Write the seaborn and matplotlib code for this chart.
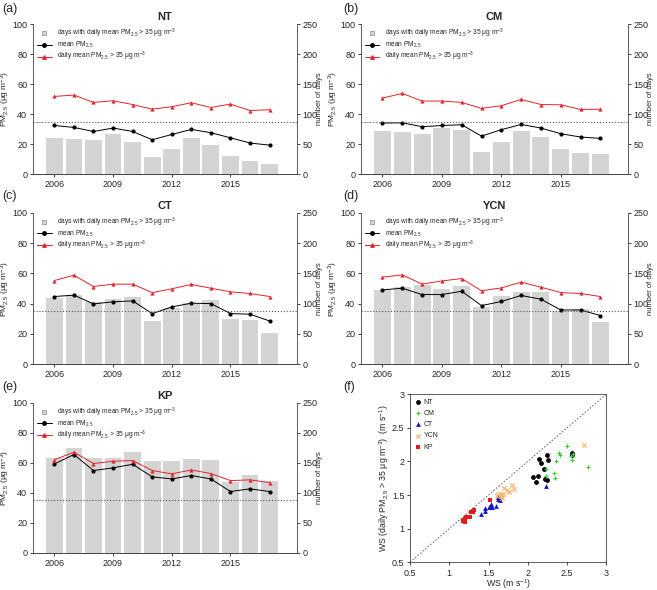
import pandas as pd
import matplotlib
matplotlib.use("Agg")
import matplotlib.pyplot as plt
from matplotlib.lines import Line2D
import seaborn as sns

# --- Datos ---
years = list(range(2006, 2018))
year_ticks = [2006, 2009, 2012, 2015]
stations = ["NT", "CM", "CT", "YCN", "KP"]
panel_tags = ["(a)", "(b)", "(c)", "(d)", "(e)"]

# días con PM2.5 diario > 35 (eje derecho)
nt_days = [60, 59, 56, 67, 53, 29, 42, 60, 49, 30, 21, 16]
cm_days = [71, 70, 66, 76, 74, 36, 54, 72, 62, 42, 35, 33]
ct_days = [110, 114, 103, 107, 111, 72, 93, 101, 106, 74, 73, 52]
ycn_days = [122, 127, 130, 125, 129, 94, 112, 120, 120, 88, 91, 70]
kp_days = [158, 175, 158, 158, 168, 153, 153, 157, 155, 118, 130, 120]

# PM2.5 medio anual
nt_mean = [32.4, 31.1, 28.4, 30.7, 28.4, 22.9, 26.4, 29.8, 27.6, 24.2, 20.7, 19.3]
cm_mean = [34.0, 34.2, 31.6, 32.4, 32.9, 25.3, 29.6, 33.1, 30.7, 26.9, 24.7, 23.8]
ct_mean = [44.7, 45.6, 39.8, 41.2, 41.8, 33.4, 37.8, 40.3, 40.0, 33.4, 33.0, 28.5]
ycn_mean = [49.1, 50.2, 46.0, 46.0, 48.2, 38.7, 41.4, 45.4, 42.9, 35.8, 35.8, 32.1]
kp_mean = [59.3, 65.6, 54.9, 56.7, 59.1, 50.7, 49.3, 51.6, 49.3, 40.9, 42.7, 40.9]

# PM2.5 medio de los días > 35
nt_exceed = [51.8, 52.7, 47.8, 48.9, 46.4, 43.3, 44.9, 47.6, 44.4, 46.7, 42.4, 42.9]
cm_exceed = [50.7, 53.8, 48.7, 48.7, 47.8, 43.8, 45.6, 49.8, 46.4, 46.2, 43.1, 43.3]
ct_exceed = [55.3, 58.8, 51.3, 52.9, 52.9, 47.3, 49.8, 52.7, 50.2, 47.8, 46.7, 44.7]
ycn_exceed = [57.5, 59.0, 52.9, 55.0, 56.6, 48.5, 50.4, 54.2, 50.9, 47.3, 46.7, 44.7]
kp_exceed = [62.2, 67.1, 59.6, 61.1, 61.6, 54.9, 52.7, 55.3, 52.9, 48.2, 48.7, 46.9]

# velocidad del viento (f)
nt_ws = [2.07, 2.13, 2.11, 2.14, 2.17, 2.21, 2.25, 2.26, 2.22, 2.25, 2.56, 2.56]
nt_ws35 = [1.77, 1.78, 1.69, 2.04, 1.97, 1.88, 2.10, 2.02, 1.74, 1.72, 2.12, 2.10]
cm_ws = [2.23, 2.23, 2.36, 2.33, 2.35, 2.40, 2.41, 2.50, 2.555, 2.56, 2.76, 2.57]
cm_ws35 = [1.89, 1.79, 2.00, 1.82, 1.75, 2.13, 2.10, 2.23, 2.08, 2.02, 1.91, 2.11]
ct_ws = [1.41, 1.46, 1.46, 1.50, 1.53, 1.53, 1.55, 1.59, 1.62, 1.64, 1.62, 2.23]
ct_ws35 = [1.22, 1.255, 1.31, 1.32, 1.32, 1.37, 1.32, 1.34, 1.44, 1.42, 1.47, 1.63]
ycn_ws = [1.61, 1.66, 1.67, 1.66, 1.70, 1.74, 1.76, 1.80, 1.82, 1.62, 1.69, 2.72]
ycn_ws35 = [1.49, 1.48, 1.46, 1.52, 1.61, 1.57, 1.55, 1.65, 1.59, 1.51, 1.51, 2.24]
kp_ws = [1.52, 1.30, 1.31, 1.28, 1.27, 1.19, 1.20, 1.21, 1.20, 1.30, 1.18, 1.21]
kp_ws35 = [1.43, 1.25, 1.27, 1.24, 1.18, 1.13, 1.10, 1.17, 1.14, 1.26, 1.11, 1.18]

ws_ticks = [0.5, 1, 1.5, 2, 2.5, 3]
ws_tick_labels = ["0.5", "1", "1.5", "2", "2.5", "3"]

# --- Estilo ---
sns.set_style("ticks")
plt.rcParams["font.family"] = ["Liberation Sans", "DejaVu Sans"]
plt.rcParams["mathtext.default"] = "regular"
plt.rcParams["axes.linewidth"] = 0.6
plt.rcParams["axes.edgecolor"] = "#444444"
plt.rcParams["xtick.major.size"] = 2.5
plt.rcParams["ytick.major.size"] = 2.5
plt.rcParams["xtick.major.width"] = 0.6
plt.rcParams["ytick.major.width"] = 0.6
plt.rcParams["xtick.major.pad"] = 2
plt.rcParams["ytick.major.pad"] = 1.5
plt.rcParams["xtick.labelsize"] = 6.5
plt.rcParams["ytick.labelsize"] = 6.5

BAR_COLOR = "#d4d4d4"
RED = "#e3242b"
PM_LABEL = "PM$_{2.5}$ (μg m$^{-3}$)"

series = {
    "NT": (nt_days, nt_mean, nt_exceed),
    "CM": (cm_days, cm_mean, cm_exceed),
    "CT": (ct_days, ct_mean, ct_exceed),
    "YCN": (ycn_days, ycn_mean, ycn_exceed),
    "KP": (kp_days, kp_mean, kp_exceed),
}

fig = plt.figure(figsize=(6.57, 5.9), dpi=100)

# posiciones de los paneles (fracción de figura)
rects = [
    [0.050, 0.705, 0.402, 0.254],
    [0.549, 0.705, 0.407, 0.254],
    [0.050, 0.383, 0.402, 0.256],
    [0.549, 0.383, 0.407, 0.256],
    [0.050, 0.063, 0.402, 0.254],
]
tag_pos = [(0.004, 0.995), (0.522, 0.995), (0.004, 0.678), (0.522, 0.678),
           (0.004, 0.354), (0.522, 0.354)]


def plot_station(rect, name, tag, tag_xy):
    days, mean_pm, exceed_pm = series[name]
    df = pd.DataFrame({"year": years, "days": days, "mean": mean_pm, "exceed": exceed_pm})
    width_px = rect[2] * 657

    ax = fig.add_axes(rect)
    ax2 = ax.twinx()
    # barras en el eje derecho, líneas encima
    sns.barplot(data=df, x="year", y="days", ax=ax2, native_scale=True,
                color=BAR_COLOR, saturation=1, width=0.86, edgecolor="none")
    ax.set_zorder(ax2.get_zorder() + 1)
    ax.patch.set_visible(False)

    sns.lineplot(data=df, x="year", y="mean", ax=ax, color="black", lw=0.7,
                 marker="o", markersize=3, markeredgewidth=0)
    sns.lineplot(data=df, x="year", y="exceed", ax=ax, color=RED, lw=0.7,
                 marker="^", markersize=3, markeredgewidth=0)
    ax.axhline(35, color="#555555", ls=":", lw=0.8)

    ax.set_xlim(2004.9, 2018.4)
    ax.set_ylim(0, 100)
    ax2.set_ylim(0, 250)
    ax.set_yticks(range(0, 101, 20))
    ax2.set_yticks(range(0, 251, 50))
    ax.set_xticks(year_ticks)
    ax.set_xticklabels([str(y) for y in year_ticks])
    ax2.tick_params(axis="y", labelsize=6.5)
    ax.set_xlabel("")
    ax.set_ylabel(PM_LABEL, fontsize=6)
    ax.yaxis.set_label_coords(-21 / width_px, 0.5)
    ax2.set_ylabel("number of days", fontsize=5.5, rotation=90)
    ax2.yaxis.set_label_coords(1 + 19 / width_px, 0.5)
    ax.set_title(name, fontsize=8, fontweight="bold", pad=3)
    for a in (ax, ax2):
        a.spines["top"].set_visible(False)
    ax.spines["right"].set_visible(False)
    ax2.spines["left"].set_visible(False)

    handles = [
        Line2D([], [], ls="none", marker="s", markersize=3.5, markerfacecolor=BAR_COLOR,
               markeredgecolor="#888888", markeredgewidth=0.5),
        Line2D([], [], color="black", lw=0.7, marker="o", markersize=2.5),
        Line2D([], [], color=RED, lw=0.7, marker="^", markersize=2.5),
    ]
    labels = ["days with daily mean PM$_{2.5}$ > 35 μg m$^{-3}$",
              "mean PM$_{2.5}$",
              "daily mean PM$_{2.5}$ > 35 μg m$^{-3}$"]
    ax.legend(handles, labels, loc="upper left", bbox_to_anchor=(0.0, 1.01),
              frameon=False, fontsize=4.8, handlelength=2.2, labelspacing=0.0,
              borderaxespad=0.2)
    fig.text(tag_xy[0], tag_xy[1], tag, fontsize=9, va="top", ha="left")


for i, st in enumerate(stations):
    plot_station(rects[i], st, panel_tags[i], tag_pos[i])

# --- Panel (f): dispersión de la velocidad del viento ---
rect_f = [0.624, 0.047, 0.299, 0.285]
axf = fig.add_axes(rect_f)
ws_data = {
    "NT": (nt_ws, nt_ws35, "black", "o", 12),
    "CM": (cm_ws, cm_ws35, "#2bd62b", "+", 12),
    "CT": (ct_ws, ct_ws35, "#1515c8", "^", 12),
    "YCN": (ycn_ws, ycn_ws35, "#f5b56c", "x", 10),
    "KP": (kp_ws, kp_ws35, "#e01b1b", "s", 10),
}
axf.plot([0.5, 3], [0.5, 3], color="#555555", ls=(0, (2, 2)), lw=0.6)
for st in stations:
    xs, ys, col, mk, sz = ws_data[st]
    lw = 0.8 if mk in ("+", "x") else 0
    sns.scatterplot(x=xs, y=ys, ax=axf, color=col, marker=mk, s=sz, linewidth=lw,
                    label=st)
axf.set_xlim(0.5, 3)
axf.set_ylim(0.5, 3)
axf.set_xticks(ws_ticks)
axf.set_xticklabels(ws_tick_labels)
axf.set_yticks(ws_ticks)
axf.set_yticklabels(ws_tick_labels)
axf.set_xlabel("WS (m s$^{-1}$)", fontsize=6.3, labelpad=0)
axf.set_ylabel("WS (daily PM$_{2.5}$ > 35 μg m$^{-3}$)  (m s$^{-1}$)", fontsize=6.3)
axf.yaxis.set_label_coords(-19 / (rect_f[2] * 657), 0.5)
axf.legend(loc="upper left", frameon=False, fontsize=5, handletextpad=0.3,
           labelspacing=0.6, borderaxespad=0.3, handlelength=1.0)
fig.text(tag_pos[5][0], tag_pos[5][1], "(f)", fontsize=9, va="top", ha="left")

fig.savefig("out.png", dpi=100)
